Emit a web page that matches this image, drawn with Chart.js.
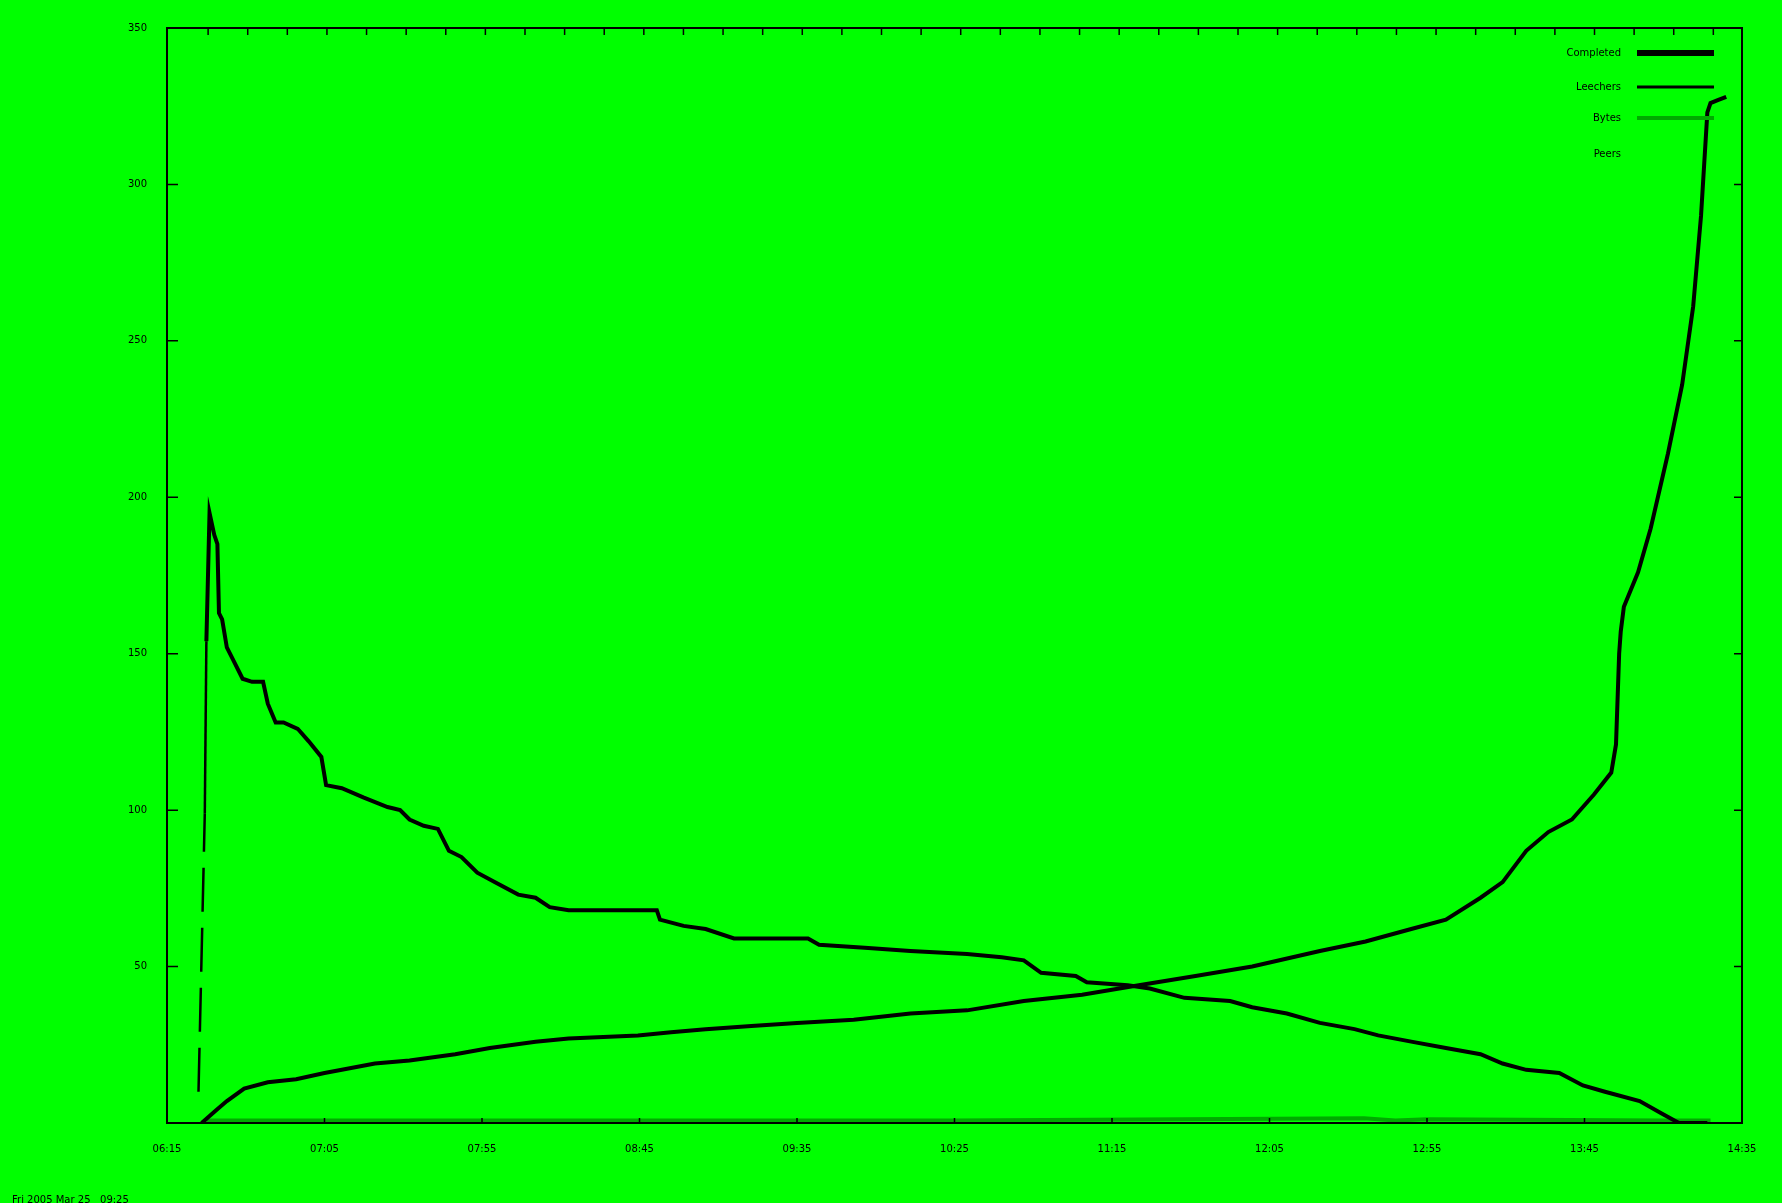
<!DOCTYPE html>
<html>
<head>
<meta charset="utf-8">
<script src="https://cdn.jsdelivr.net/npm/chart.js@4.4.1/dist/chart.umd.min.js"></script>
<style>
	html, body {margin: 0; padding: 0; background: #00ff00;}
	canvas {display: block;}
</style>
</head>
<body>
<canvas id="swarmChart" width="1782" height="1203"></canvas>
<script>
// time axis labels (one per major tick) and count axis labels
const xLabels = ['06:15', '07:05', '07:55', '08:45', '09:35', '10:25', '11:15', '12:05', '12:55', '13:45', '14:35'];
const yLabels = ['', '50', '100', '150', '200', '250', '300', '350'];
const seriesNames = ['Completed', 'Leechers', 'Bytes', 'Peers'];

// completed downloads, rising curve
const completeX = [0.22, 0.31, 0.38, 0.49, 0.64, 0.82, 1.00, 1.11, 1.32, 1.54, 1.83, 2.05, 2.34, 2.55, 2.99, 3.20, 3.42, 3.71, 4.00, 4.36, 4.72, 5.08, 5.44, 5.81, 6.17, 6.53, 6.89, 7.32, 7.61, 7.90, 8.12, 8.34, 8.48, 8.63, 8.77, 8.92, 9.06, 9.17, 9.20, 9.22, 9.23, 9.25, 9.34, 9.42, 9.53, 9.62, 9.69, 9.74, 9.78, 9.80, 9.85, 9.90];
const completeY = [0, 4, 7, 11, 13, 14, 16, 17, 19, 20, 22, 24, 26, 27, 28, 29, 30, 31, 32, 33, 35, 36, 39, 41, 44, 47, 50, 55, 58, 62, 65, 72, 77, 87, 93, 97, 105, 112, 121, 150, 157, 165, 176, 190, 214, 236, 261, 290, 323, 326, 327, 328];

// leechers, peak at the start then falling
const leechX = [0.20, 0.24, 0.25, 0.27, 0.30, 0.32, 0.33, 0.35, 0.38, 0.42, 0.48, 0.54, 0.61, 0.64, 0.69, 0.74, 0.83, 0.90, 0.98, 1.01, 1.11, 1.25, 1.40, 1.48, 1.54, 1.63, 1.72, 1.79, 1.87, 1.97, 2.08, 2.23, 2.34, 2.43, 2.55, 2.84, 3.11, 3.13, 3.28, 3.42, 3.60, 3.78, 4.07, 4.14, 4.43, 4.72, 5.08, 5.30, 5.44, 5.55, 5.77, 5.84, 6.10, 6.24, 6.46, 6.75, 6.89, 7.11, 7.32, 7.54, 7.69, 7.90, 8.12, 8.34, 8.48, 8.63, 8.84, 8.99, 9.13, 9.35, 9.49, 9.60, 9.78];
const leechY = [10, 99, 154, 195, 188, 185, 163, 161, 152, 148, 142, 141, 141, 134, 128, 128, 126, 122, 117, 108, 107, 104, 101, 100, 97, 95, 94, 87, 85, 80, 77, 73, 72, 69, 68, 68, 68, 65, 63, 62, 59, 59, 59, 57, 56, 55, 54, 53, 52, 48, 47, 45, 44, 43, 40, 39, 37, 35, 32, 30, 28, 26, 24, 22, 19, 17, 16, 12, 10, 7, 3, 0, 0];

// bytes, stays on the floor
const bytesX = [0.25, 2.0, 5.0, 7.6, 7.8, 8.0, 9.5, 9.8];
const bytesY = [0.8, 0.8, 0.8, 1.5, 0.8, 1.2, 0.8, 0.8];

const lineColors = ['#000000', '#000000', 'rgb(0,170,0)', '#00ff00'];
const legendWidths = [6, 3, 4, 0];

const toPoints = (xs, ys) => xs.map((x, i) => ({x: x, y: ys[i]}));

// gnuplot style frame: border box, inward ticks, key and footer
const gnuFrame = {
	id: 'gnuFrame',
	beforeDraw(chart) {
		const ctx = chart.ctx;
		ctx.save();
		ctx.fillStyle = '#00ff00';
		ctx.fillRect(0, 0, chart.width, chart.height);
		ctx.restore();
	},
	afterDatasetsDraw(chart) {
		const {ctx, chartArea: a, scales} = chart;
		ctx.save();
		ctx.strokeStyle = '#000';
		ctx.lineWidth = 2;
		ctx.strokeRect(a.left, a.top, a.right - a.left, a.bottom - a.top);
		ctx.lineWidth = 1.5;
		ctx.beginPath();
		for (let v = 0; v <= 10; v++) {
			const px = scales.x.getPixelForValue(v);
			ctx.moveTo(px, a.bottom);
			ctx.lineTo(px, a.bottom - 5);
		}
		// the top axis carries finer ticks
		for (let k = 0; k < 39; k++) {
			const px = scales.x.getPixelForValue(0.261 + k * 0.2515);
			ctx.moveTo(px, a.top);
			ctx.lineTo(px, a.top + 7);
		}
		for (let v = 50; v < 350; v += 50) {
			const py = scales.y.getPixelForValue(v);
			ctx.moveTo(a.left, py);
			ctx.lineTo(a.left + 11, py);
			ctx.moveTo(a.right, py);
			ctx.lineTo(a.right - 8, py);
		}
		ctx.stroke();
		ctx.restore();
	},
	afterDraw(chart) {
		const ctx = chart.ctx;
		ctx.save();
		ctx.font = '10px "DejaVu Sans"';
		ctx.fillStyle = '#000';
		ctx.textAlign = 'right';
		ctx.textBaseline = 'middle';
		const keyY = [53, 87, 118, 154];
		seriesNames.forEach((name, i) => {
			ctx.fillText(name, 1621, keyY[i]);
			if (legendWidths[i] > 0) {
				ctx.strokeStyle = lineColors[i];
				ctx.lineWidth = legendWidths[i];
				ctx.beginPath();
				ctx.moveTo(1637, keyY[i]);
				ctx.lineTo(1714, keyY[i]);
				ctx.stroke();
			}
		});
		ctx.textAlign = 'left';
		ctx.fillText('Fri 2005 Mar 25   09:25', 12, 1200);
		ctx.restore();
	}
};

const ctx = document.getElementById('swarmChart');
new Chart(ctx, {
	type: 'line',
	data: {
		datasets: [
			{
				label: seriesNames[0],
				data: toPoints(completeX, completeY),
				borderColor: lineColors[0],
				borderWidth: 4,
				pointRadius: 0,
				tension: 0,
			},
			{
				label: seriesNames[1],
				data: toPoints(leechX, leechY),
				borderColor: lineColors[1],
				borderWidth: 4,
				pointRadius: 0,
				tension: 0,
				segment: {
					// the first steep climb shows up broken and thin in the original
					borderDash: c => c.p0DataIndex === 0 ? [44, 16] : undefined,
					borderWidth: c => c.p0DataIndex <= 1 ? 2.5 : undefined,
				},
			},
			{
				label: seriesNames[2],
				data: toPoints(bytesX, bytesY),
				borderColor: lineColors[2],
				borderWidth: 4,
				pointRadius: 0,
				tension: 0,
			},
			{
				label: seriesNames[3],
				data: [],
				borderColor: lineColors[3],
				borderWidth: 1,
				pointRadius: 0,
			},
		],
	},
	options: {
		responsive: false,
		animation: false,
		devicePixelRatio: 1,
		layout: {
			padding: {top: 28, right: 40, bottom: 0, left: 0},
		},
		plugins: {
			legend: {display: false},
			tooltip: {enabled: false},
		},
		scales: {
			x: {
				type: 'linear',
				min: 0,
				max: 10,
				grid: {display: false, drawTicks: false},
				border: {display: false},
				afterFit: s => { s.height = 80; },
				ticks: {
					stepSize: 1,
					autoSkip: false,
					maxRotation: 0,
					padding: 20,
					color: '#000',
					font: {family: 'DejaVu Sans', size: 10},
					callback: (v, i) => xLabels[i],
				},
			},
			y: {
				min: 0,
				max: 350,
				grid: {display: false, drawTicks: false},
				border: {display: false},
				afterFit: s => { s.width = 167; },
				ticks: {
					stepSize: 50,
					padding: 20,
					color: '#000',
					font: {family: 'DejaVu Sans', size: 10},
					callback: (v, i) => yLabels[i],
				},
			},
		},
	},
	plugins: [gnuFrame],
});
</script>
</body>
</html>
